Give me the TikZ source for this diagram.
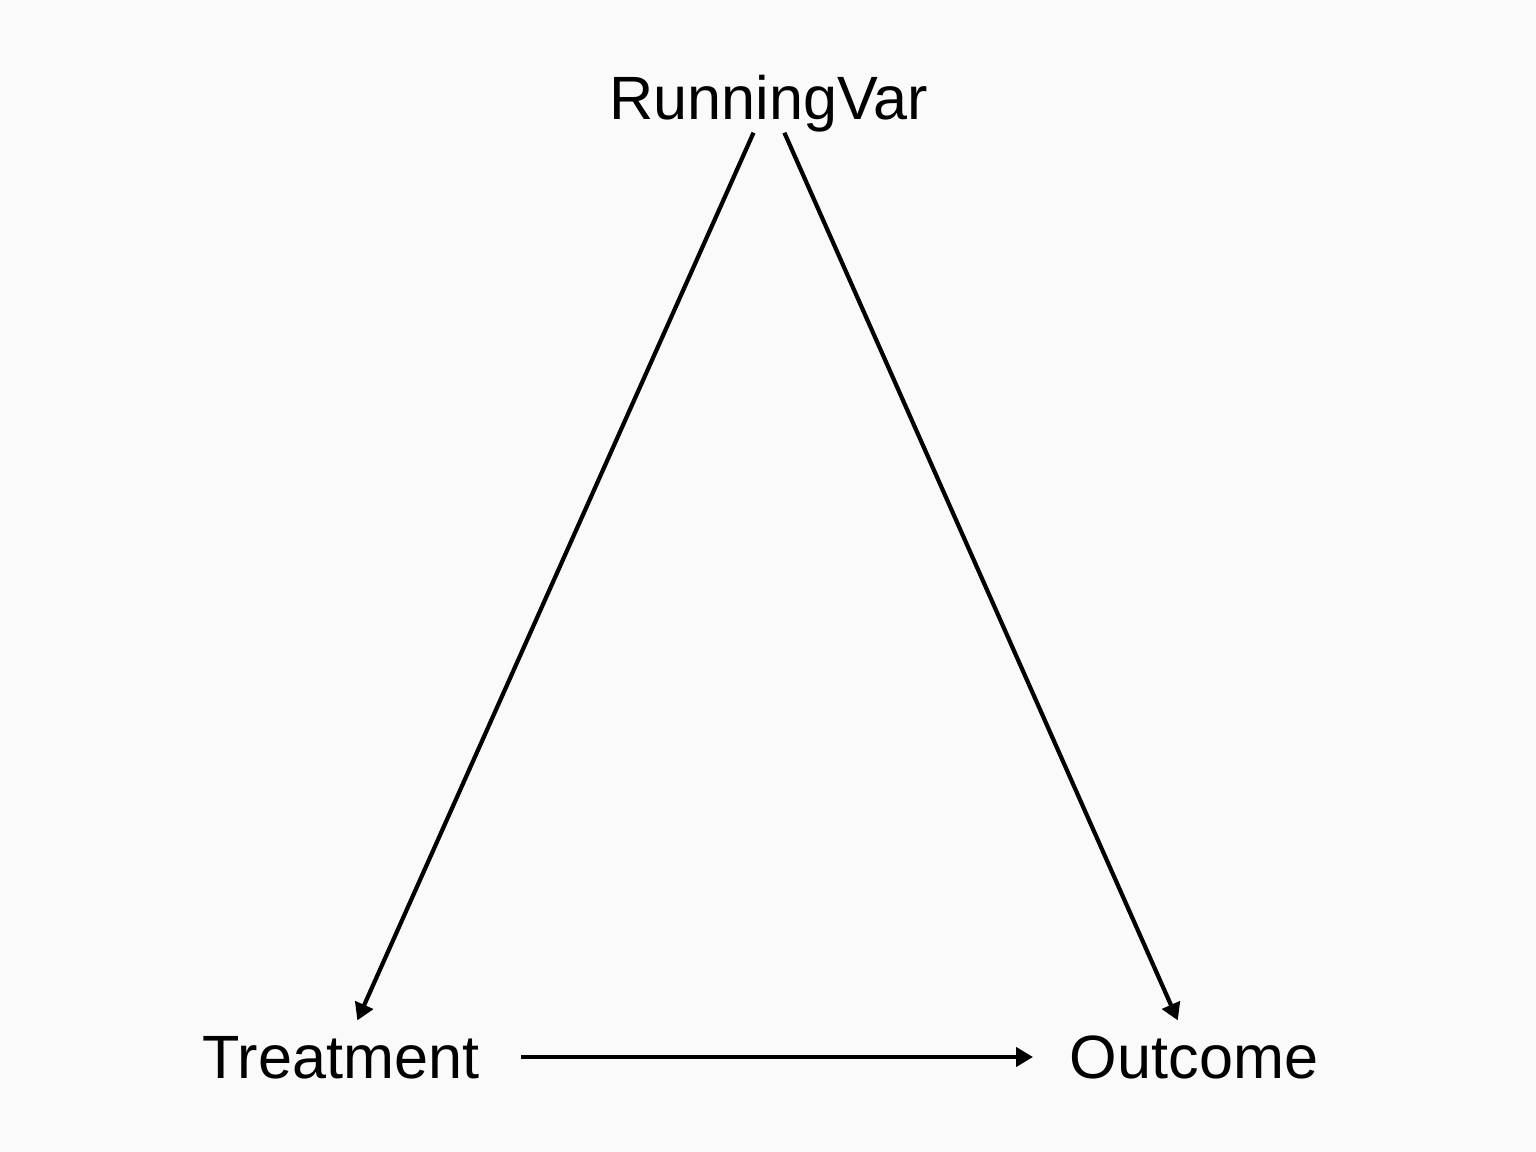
\documentclass[tikz,border=0pt]{standalone}
\usepackage{fontspec}
\setmainfont{Liberation Sans}
\usepackage{tikz}
\usetikzlibrary{arrows.meta}
\definecolor{bgc}{RGB}{250,250,250}
\tikzset{
  var/.style={rectangle, inner sep=0pt, text height=0.44cm, text depth=0pt,
              font=\fontsize{17.4}{20}\selectfont, text=black},
  ar/.style={-{Triangle[length=0.17cm, width=0.19cm]}, line width=0.042cm, draw=black}
}
\begin{document}
\begin{tikzpicture}
    \fill[bgc] (0,0) rectangle (15.36,11.52);
    \useasboundingbox (0,0) rectangle (15.36,11.52);
    \node[var] (rv) at (7.69,10.54) {RunningVar};
    \node[var] (tr) at (3.41,0.95) {Treatment};
    \node[var] (oc) at (11.94,0.95) {Outcome};
    \draw[ar, shorten <=0.38cm, shorten >=0.40cm] (rv.center) -- (tr.center);
    \draw[ar, shorten <=0.38cm, shorten >=0.40cm] (rv.center) -- (oc.center);
    \draw[ar, shorten <=1.80cm, shorten >=1.61cm] (tr.center) -- (oc.center);
  \end{tikzpicture}
\end{document}
